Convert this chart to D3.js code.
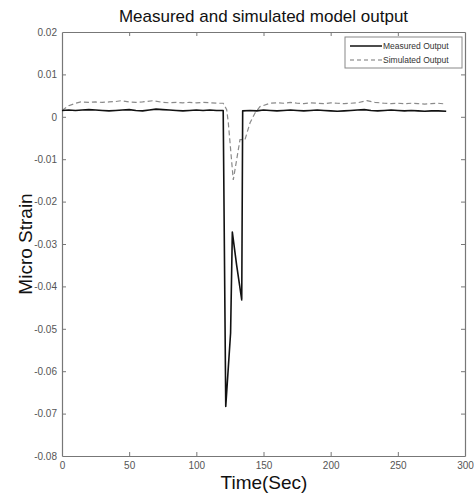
<!DOCTYPE html>
<html>
<head>
<meta charset="utf-8">
<script src="https://cdn.jsdelivr.net/npm/d3@7"></script>
<style>
  body { margin: 0; background: #fff; }
  svg { display: block; font-family: "Liberation Sans", Arial, sans-serif; }
</style>
</head>
<body>
<svg id="chart" width="474" height="494"></svg>
<script>
// ---- data ----
const xTicks = [0, 50, 100, 150, 200, 250, 300];
const yTicks = [0.02, 0.01, 0, -0.01, -0.02, -0.03, -0.04, -0.05, -0.06, -0.07, -0.08];
const yTickLabels = ["0.02", "0.01", "0", "-0.01", "-0.02", "-0.03", "-0.04", "-0.05", "-0.06", "-0.07", "-0.08"];
const seriesNames = ["Measured Output", "Simulated Output"];

const measuredTime = [0, 5, 10, 15, 20, 25, 30, 35, 40, 45, 50, 55, 60, 65, 70, 75, 80, 85, 90, 95, 100, 105, 110, 115, 120,
  121.9, 125.5, 126.8, 130, 133.8, 134.5, 140, 145, 150, 155, 160, 165, 170, 175, 180, 185, 190, 195, 200, 205, 210, 215,
  220, 225, 230, 235, 240, 245, 250, 255, 260, 265, 270, 275, 280, 286];
const measuredValue = [0.0015, 0.0016, 0.0015, 0.0016, 0.0017, 0.0016, 0.0015, 0.0014, 0.0015, 0.0016, 0.0017, 0.0015, 0.0014, 0.0016, 0.0018, 0.0017, 0.0016, 0.0015, 0.0014, 0.0015, 0.0016, 0.0015, 0.0016, 0.0015, 0.0015,
  -0.0683, -0.051, -0.0272, -0.035, -0.0432, 0.0014, 0.0015, 0.0014, 0.0016, 0.0015, 0.0014, 0.0015, 0.0016, 0.0015, 0.0014, 0.0015, 0.0016, 0.0015, 0.0014, 0.0013, 0.0014, 0.0015,
  0.0016, 0.0017, 0.0015, 0.0014, 0.0015, 0.0016, 0.0015, 0.0014, 0.0015, 0.0014, 0.0013, 0.0014, 0.0014, 0.0013];

const simulatedTime = [0, 5, 10, 14, 20, 25, 30, 35, 40, 44, 50, 55, 60, 68, 75, 80, 85, 90, 95, 100, 105, 110, 115, 120, 122.6,
  123.8, 127.5, 132.5, 136.2, 140, 143.7, 147.4, 154.8, 160, 165, 170, 175, 180, 185, 190, 195, 200, 205, 210, 215, 220,
  227, 233, 240, 245, 250, 255, 260, 265, 270, 275, 280, 286];
const simulatedValue = [0.0015, 0.0026, 0.0032, 0.0035, 0.0034, 0.0035, 0.0034, 0.0035, 0.0036, 0.0038, 0.0035, 0.0034, 0.0035, 0.0038, 0.0034, 0.0033, 0.0034, 0.0033, 0.0034, 0.0033, 0.0034, 0.0033, 0.0032, 0.0032, 0.0017,
  -0.0014, -0.0149, -0.0054, -0.0054, -0.0014, 0.0009, 0.0024, 0.0032, 0.0033, 0.0032, 0.0034, 0.0032, 0.0031, 0.0033, 0.0032, 0.0031, 0.0033, 0.0032, 0.0031, 0.0032, 0.0033,
  0.0038, 0.0034, 0.0032, 0.0031, 0.0032, 0.0031, 0.0032, 0.0031, 0.0030, 0.0031, 0.0032, 0.0030];

// ---- layout ----
const svg = d3.select("#chart");
const mLeft = 62, mRight = 465, mTop = 32, mBottom = 456;
const x = d3.scaleLinear().domain([0, 300]).range([mLeft, mRight]);
const y = d3.scaleLinear().domain([-0.08, 0.02]).range([mBottom, mTop]);
const axisColor = "#777";
const tickTextColor = "#555";
const narrow = "'Liberation Sans Narrow', 'Liberation Sans', Arial, sans-serif";

// axes (ticks inward, MATLAB box)
const gB = svg.append("g").attr("transform", `translate(0,${mBottom})`)
  .call(d3.axisBottom(x).tickValues(xTicks).tickSize(-4).tickPadding(6).tickSizeOuter(0));
const gT = svg.append("g").attr("transform", `translate(0,${mTop})`)
  .call(d3.axisTop(x).tickValues(xTicks).tickSize(-4).tickFormat("").tickSizeOuter(0));
const gL = svg.append("g").attr("transform", `translate(${mLeft},0)`)
  .call(d3.axisLeft(y).tickValues(yTicks).tickSize(-4).tickPadding(5).tickSizeOuter(0)
    .tickFormat((d, i) => yTickLabels[i]));
const gR = svg.append("g").attr("transform", `translate(${mRight},0)`)
  .call(d3.axisRight(y).tickValues(yTicks).tickSize(-4).tickFormat("").tickSizeOuter(0));

[gB, gT, gL, gR].forEach(g => {
  g.select(".domain").attr("stroke", axisColor).attr("stroke-width", 1.2);
  g.selectAll(".tick line").attr("stroke", axisColor);
  g.selectAll(".tick text").attr("fill", tickTextColor).attr("font-size", 10)
    .attr("font-family", narrow);
});
// remove end ticks hidden by the box
[gB, gT].forEach(g => g.selectAll(".tick line").filter(d => d === 0 || d === 300).remove());
[gL, gR].forEach(g => g.selectAll(".tick line").filter(d => d === 0.02 || d === -0.08).remove());

// lines
const measured = measuredTime.map((t, i) => [t, measuredValue[i]]);
const simulated = simulatedTime.map((t, i) => [t, simulatedValue[i]]);
const line = d3.line().x(d => x(d[0])).y(d => y(d[1]));

svg.append("path").datum(simulated).attr("d", line)
  .attr("fill", "none").attr("stroke", "#8a8a8a").attr("stroke-width", 1.2)
  .attr("stroke-dasharray", "5,3");
svg.append("path").datum(measured).attr("d", line)
  .attr("fill", "none").attr("stroke", "#111").attr("stroke-width", 1.6)
  .attr("stroke-linejoin", "round");

// legend
const lg = svg.append("g");
lg.append("rect").attr("x", 345).attr("y", 37).attr("width", 117).attr("height", 31)
  .attr("fill", "#fff").attr("stroke", "#888").attr("stroke-width", 1);
const legendStyles = [
  { stroke: "#111", dash: null, w: 1.5 },
  { stroke: "#777", dash: "4,3", w: 1.2 }
];
seriesNames.forEach((name, i) => {
  const yy = 46 + i * 14;
  lg.append("line").attr("x1", 350).attr("x2", 382).attr("y1", yy).attr("y2", yy)
    .attr("stroke", legendStyles[i].stroke).attr("stroke-width", legendStyles[i].w)
    .attr("stroke-dasharray", legendStyles[i].dash);
  lg.append("text").attr("x", 383).attr("y", yy + 3).text(name)
    .attr("font-size", 8.5).attr("fill", "#333")
    .attr("font-family", narrow);
});

// titles
svg.append("text").attr("x", (mLeft + mRight) / 2).attr("y", 22).attr("text-anchor", "middle")
  .attr("font-size", 17).attr("fill", "#111").text("Measured and simulated model output");
svg.append("text").attr("x", 264).attr("y", 489).attr("text-anchor", "middle")
  .attr("font-size", 19).attr("fill", "#111").text("Time(Sec)");
svg.append("text").attr("transform", `translate(32,${(mTop + mBottom) / 2}) rotate(-90)`)
  .attr("text-anchor", "middle").attr("font-size", 19).attr("fill", "#111").text("Micro Strain");
</script>
</body>
</html>
